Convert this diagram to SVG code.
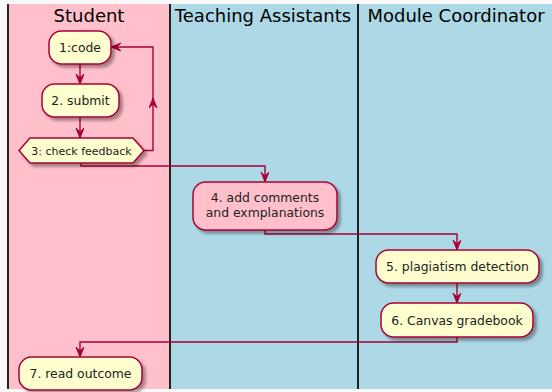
<svg xmlns="http://www.w3.org/2000/svg" width="552" height="392" viewBox="0 0 552 392">
  <style>
    .title { font-family: "DejaVu Sans", sans-serif; font-size: 18px; fill: #000; text-anchor: middle; }
    .label { font-family: "DejaVu Sans", sans-serif; font-size: 12.4px; fill: #222; text-anchor: middle; }
    .small { font-family: "DejaVu Sans", sans-serif; font-size: 11px; fill: #222; text-anchor: middle; }
    .act { fill: #FEFECE; stroke: #A80036; stroke-width: 1.5; filter: url(#shadow); }
    .act-pink { fill: #FFC0CB; stroke: #A80036; stroke-width: 1.5; filter: url(#shadow); }
    .flow { fill: none; stroke: #A80036; stroke-width: 1.4; }
    .arrowed { marker-end: url(#head); }
    .lane-line { stroke: #222; stroke-width: 2; }
  </style>
  <defs>
    <filter id="shadow" x="-20%" y="-20%" width="150%" height="160%">
      <feGaussianBlur in="SourceAlpha" stdDeviation="1.5"/>
      <feOffset dx="3" dy="3" result="off"/>
      <feComponentTransfer><feFuncA type="linear" slope="0.35"/></feComponentTransfer>
      <feMerge><feMergeNode/><feMergeNode in="SourceGraphic"/></feMerge>
    </filter>
    <marker id="head" markerUnits="userSpaceOnUse" markerWidth="12" markerHeight="10" refX="10" refY="4" orient="auto">
      <path d="M0,0 L10,4 L0,8 L4,4 Z" fill="#A80036" stroke="#A80036" stroke-width="1"/>
    </marker>
  </defs>

  <!-- page -->
  <rect x="0" y="0" width="552" height="392" fill="#F8F8F8"/>

  <!-- swimlanes -->
  <g id="lanes">
    <rect x="8" y="4" width="162" height="385" fill="#FFC0CB"/>
    <rect x="170" y="4" width="188" height="385" fill="#ADD8E6"/>
    <rect x="358" y="4" width="194" height="385" fill="#ADD8E6"/>
    <line class="lane-line" x1="8" y1="4" x2="8" y2="389"/>
    <line class="lane-line" x1="170" y1="4" x2="170" y2="389"/>
    <line class="lane-line" x1="358" y1="4" x2="358" y2="389"/>
    <text class="title" x="89" y="22">Student</text>
    <text class="title" x="263" y="22">Teaching Assistants</text>
    <text class="title" x="456" y="22">Module Coordinator</text>
  </g>

  <!-- connectors -->
  <g id="connectors">
    <line class="flow arrowed" x1="80" y1="64" x2="80" y2="84"/>
    <line class="flow arrowed" x1="80" y1="117" x2="80" y2="138"/>
    <!-- feedback loop back to coding -->
    <polyline class="flow arrowed" points="144,150.5 153,150.5 153,98"/>
    <polyline class="flow arrowed" points="153,100 153,47 111,47"/>
    <polyline class="flow arrowed" points="81,163 81,166 265,166 265,182"/>
    <polyline class="flow arrowed" points="265,230 265,234 457,234 457,250"/>
    <line class="flow arrowed" x1="457" y1="283" x2="457" y2="303"/>
    <polyline class="flow arrowed" points="457,337 457,342 80,342 80,357"/>
  </g>

  <g id="code">
    <rect class="act" x="49" y="31" width="62" height="33" rx="12.5"/>
    <text class="label" x="80" y="52">1:code</text>
  </g>
  <g id="submit">
    <rect class="act" x="42" y="84" width="77" height="33" rx="12.5"/>
    <text class="label" x="80.5" y="105">2. submit</text>
  </g>
  <g id="check-feedback">
    <polygon class="act" points="19,150.5 30,138 133,138 144,150.5 133,163 30,163"/>
    <text class="small" x="81.5" y="154.5">3: check feedback</text>
  </g>
  <g id="add-comments">
    <rect class="act-pink" x="193" y="182" width="144" height="48" rx="12.5"/>
    <text class="label" x="265" y="202">4. add comments</text>
    <text class="label" x="265" y="217">and exmplanations</text>
  </g>
  <g id="plagiatism">
    <rect class="act" x="376" y="250" width="163" height="33" rx="12.5"/>
    <text class="label" x="457.5" y="271">5. plagiatism detection</text>
  </g>
  <g id="gradebook">
    <rect class="act" x="381" y="303" width="152" height="34" rx="12.5"/>
    <text class="label" x="457" y="324.5">6. Canvas gradebook</text>
  </g>
  <g id="read-outcome">
    <rect class="act" x="19" y="357" width="123" height="33" rx="12.5"/>
    <text class="label" x="80.5" y="378">7. read outcome</text>
  </g>
</svg>
